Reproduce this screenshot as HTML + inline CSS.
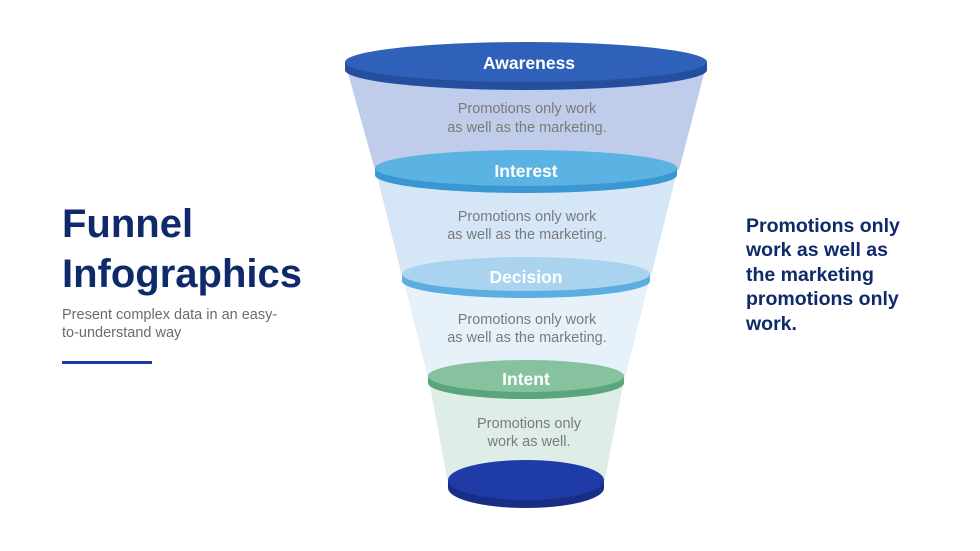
<!DOCTYPE html>
<html><head><meta charset="utf-8"><style>
body{margin:0;background:#fff;width:980px;height:551px;overflow:hidden;font-family:"Liberation Sans",sans-serif}
.t{position:absolute;left:62px;color:#0f2a6b;font-weight:bold;font-size:40px;line-height:50px;top:199px}
.s{position:absolute;left:62px;top:306px;color:#6b6b6b;font-size:14.5px;line-height:18px}
.l{position:absolute;left:62px;top:361px;width:90px;height:3px;background:#1f3aa8}
.r{position:absolute;left:746px;top:214px;color:#0f2a6b;font-weight:bold;font-size:19.5px;line-height:24.4px}
svg{position:absolute;left:0;top:0}
</style></head><body>
<div class="t">Funnel<br>Infographics</div>
<div class="s">Present complex data in an easy-<br>to-understand way</div>
<div class="l"></div>
<div class="r">Promotions only<br>work as well as<br>the marketing<br>promotions only<br>work.</div>
<svg width="980" height="551" font-family="Liberation Sans,sans-serif">
<polygon points="346,66 706,66 679,170 375,170" fill="#bfcdea"/>
<polygon points="376,172 677,172 651,276 402,276" fill="#d5e7f6"/>
<polygon points="403,278 650,278 625,378 428,378" fill="#e6f1fa"/>
<polygon points="429,380 624,380 604,484 448,484" fill="#deede5"/>
<g>
<ellipse cx="526" cy="70" rx="181" ry="20" fill="#234f9e"/><rect x="345" y="62" width="362" height="8" fill="#234f9e"/><ellipse cx="526" cy="62" rx="181" ry="20" fill="#2f61bb"/>
<ellipse cx="526" cy="175" rx="151" ry="18" fill="#3a97d2"/><rect x="375" y="168" width="302" height="7" fill="#3a97d2"/><ellipse cx="526" cy="168" rx="151" ry="18" fill="#5bb3e4"/>
<ellipse cx="526" cy="281" rx="124" ry="17" fill="#5aaee0"/><rect x="402" y="274" width="248" height="7" fill="#5aaee0"/><ellipse cx="526" cy="274" rx="124" ry="17" fill="#aad3ef"/>
<ellipse cx="526" cy="383" rx="98" ry="16" fill="#5aa57b"/><rect x="428" y="376" width="196" height="7" fill="#5aa57b"/><ellipse cx="526" cy="376" rx="98" ry="16" fill="#86c29e"/>
<ellipse cx="526" cy="488" rx="78" ry="20" fill="#182e86"/><rect x="448" y="480" width="156" height="8" fill="#182e86"/><ellipse cx="526" cy="480" rx="78" ry="20" fill="#1f3ba8"/>
</g>
<g fill="#fff" font-weight="bold" font-size="17.5" text-anchor="middle">
<text x="529" y="69">Awareness</text><text x="526" y="177">Interest</text><text x="526" y="283">Decision</text><text x="526" y="385">Intent</text>
</g>
<g fill="#7a7a7a" font-size="14.5" text-anchor="middle">
<text x="527" y="113">Promotions only work</text><text x="527" y="132">as well as the marketing.</text>
<text x="527" y="221">Promotions only work</text><text x="527" y="239">as well as the marketing.</text>
<text x="527" y="324">Promotions only work</text><text x="527" y="342">as well as the marketing.</text>
<text x="529" y="428">Promotions only</text><text x="529" y="446">work as well.</text>
</g>
</svg>
</body></html>
